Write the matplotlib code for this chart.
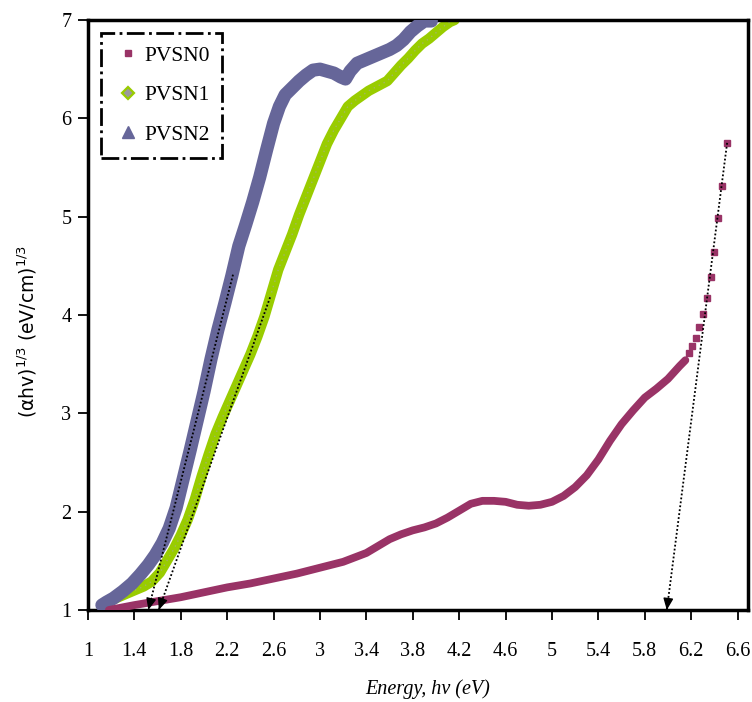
import matplotlib
matplotlib.use("Agg")
import matplotlib.pyplot as plt
from matplotlib.lines import Line2D

plt.rcParams["mathtext.fontset"] = "custom"
plt.rcParams["mathtext.rm"] = "Liberation Sans"
plt.rcParams["mathtext.it"] = "Liberation Sans"
plt.rcParams["mathtext.default"] = "regular"

# PVSN0 – dense part of the curve and the sparse high-energy points
pvsn0_energy = [1.18, 1.40, 1.60, 1.80, 2.00, 2.20, 2.40, 2.60, 2.80, 3.00,
                3.20, 3.40, 3.50, 3.60, 3.70, 3.80, 3.90, 4.00, 4.10, 4.20,
                4.30, 4.40, 4.50, 4.60, 4.70, 4.80, 4.90, 5.00, 5.10, 5.20,
                5.30, 5.40, 5.50, 5.60, 5.70, 5.80, 5.90, 6.00, 6.10, 6.15]
pvsn0_value = [1.00, 1.05, 1.09, 1.13, 1.18, 1.23, 1.27, 1.32, 1.37, 1.43,
               1.49, 1.58, 1.65, 1.72, 1.77, 1.81, 1.84, 1.88, 1.94, 2.01,
               2.08, 2.11, 2.11, 2.10, 2.07, 2.06, 2.07, 2.10, 2.16, 2.25,
               2.37, 2.53, 2.72, 2.89, 3.03, 3.16, 3.25, 3.35, 3.48, 3.54]
pvsn0_tail_energy = [6.18, 6.21, 6.24, 6.27, 6.30, 6.34, 6.37, 6.40, 6.43, 6.47, 6.51]
pvsn0_tail_value = [3.61, 3.68, 3.77, 3.88, 4.01, 4.17, 4.39, 4.64, 4.99, 5.31, 5.75]

# PVSN1
pvsn1_energy = [1.14, 1.20, 1.30, 1.40, 1.48, 1.55, 1.62, 1.68, 1.74, 1.80,
                1.86, 1.92, 1.98, 2.04, 2.10, 2.16, 2.22, 2.28, 2.34, 2.40,
                2.46, 2.52, 2.58, 2.64, 2.70, 2.76, 2.82, 2.88, 2.94, 3.00,
                3.06, 3.12, 3.18, 3.24, 3.30, 3.36, 3.42, 3.50, 3.58, 3.64,
                3.70, 3.76, 3.82, 3.88, 3.94, 4.00, 4.06, 4.12, 4.16]
pvsn1_value = [1.07, 1.10, 1.15, 1.20, 1.24, 1.29, 1.38, 1.50, 1.62, 1.76,
               1.92, 2.12, 2.36, 2.58, 2.79, 2.96, 3.12, 3.28, 3.44, 3.60,
               3.78, 3.98, 4.22, 4.46, 4.64, 4.82, 5.02, 5.20, 5.38, 5.56,
               5.74, 5.88, 6.00, 6.12, 6.18, 6.23, 6.28, 6.33, 6.38, 6.46,
               6.54, 6.61, 6.69, 6.76, 6.81, 6.87, 6.93, 6.98, 7.00]

# PVSN2
pvsn2_energy = [1.12, 1.16, 1.22, 1.30, 1.38, 1.45, 1.52, 1.58, 1.64, 1.70,
                1.76, 1.82, 1.88, 1.94, 2.00, 2.06, 2.12, 2.18, 2.24, 2.30,
                2.36, 2.42, 2.48, 2.54, 2.60, 2.65, 2.70, 2.76, 2.82, 2.88,
                2.94, 3.00, 3.06, 3.12, 3.18, 3.22, 3.26, 3.32, 3.40, 3.50,
                3.60, 3.66, 3.72, 3.78, 3.84, 3.90, 3.96]
pvsn2_value = [1.05, 1.08, 1.12, 1.19, 1.27, 1.36, 1.46, 1.56, 1.68, 1.83,
               2.04, 2.33, 2.62, 2.92, 3.22, 3.55, 3.85, 4.12, 4.40, 4.70,
               4.92, 5.15, 5.40, 5.68, 5.95, 6.12, 6.24, 6.31, 6.38, 6.44,
               6.49, 6.50, 6.48, 6.46, 6.42, 6.40, 6.48, 6.56, 6.60, 6.65,
               6.70, 6.74, 6.80, 6.88, 6.94, 6.99, 6.99]

# Linear extrapolations to the energy axis: upper point and band gap
tangent_top_energy = [2.25, 2.57, 6.51]
tangent_top_value = [4.41, 4.18, 5.75]
band_gap = [1.52, 1.61, 5.99]

labels = ["PVSN0", "PVSN1", "PVSN2"]
x_ticks = [1.0, 1.4, 1.8, 2.2, 2.6, 3.0, 3.4, 3.8, 4.2, 4.6, 5.0, 5.4, 5.8, 6.2, 6.6]
x_tick_labels = ["1", "1.4", "1.8", "2.2", "2.6", "3", "3.4", "3.8", "4.2",
                 "4.6", "5", "5.4", "5.8", "6.2", "6.6"]
y_ticks = [1, 2, 3, 4, 5, 6, 7]

c0, c1, c2 = "#993366", "#99CC00", "#666699"

fig = plt.figure(figsize=(7.52, 7.02), dpi=100)
ax = fig.add_axes([88 / 752, 1 - 610 / 702, 660 / 752, 590 / 702])

ax.plot(pvsn1_energy, pvsn1_value, color=c1, lw=7.5, solid_capstyle="round",
        solid_joinstyle="round", zorder=2)
ax.plot(pvsn1_energy, pvsn1_value, color="#a8a8a8", lw=1.0, ls=(0, (1, 3)),
        alpha=0.6, zorder=2.1)
ax.plot(pvsn2_energy, pvsn2_value, color=c2, lw=9.5, solid_capstyle="round",
        solid_joinstyle="round", zorder=3)
ax.plot(pvsn0_energy, pvsn0_value, color=c0, lw=5.6, solid_capstyle="round",
        solid_joinstyle="round", zorder=4)
ax.plot(pvsn0_tail_energy, pvsn0_tail_value, ls="none", marker="s", ms=5,
        color=c0, zorder=4)

for xt, yt, eg in zip(tangent_top_energy, tangent_top_value, band_gap):
    ax.plot([xt, eg], [yt, 1.0], color="black", lw=1.3, ls=(0, (1, 1.2)),
            zorder=6, clip_on=False)
    dx = (xt - eg) / (yt - 1.0) * 0.12
    ax.annotate("", xy=(eg, 1.0), xytext=(eg + dx, 1.12),
                arrowprops=dict(arrowstyle="-|>,head_length=0.7,head_width=0.3",
                                color="black", lw=1.0, shrinkA=0, shrinkB=0,
                                mutation_scale=10),
                zorder=7, annotation_clip=False)

ax.set_xlim(1.0, 6.69)
ax.set_ylim(1, 7)
ax.set_xticks(x_ticks)
ax.set_xticklabels(x_tick_labels)
ax.set_yticks(y_ticks)
for lab in ax.get_xticklabels() + ax.get_yticklabels():
    lab.set_fontfamily("Liberation Serif")
    lab.set_fontsize(14.5)
ax.tick_params(axis="x", direction="out", length=7, width=1.3, pad=16)
ax.tick_params(axis="y", direction="out", length=7, width=1.3, pad=5)
for sp in ax.spines.values():
    sp.set_linewidth(2.5)

ax.set_xlabel("Energy, hv (eV)", fontfamily="Liberation Serif", style="italic",
              fontsize=14.5, va="center")
ax.xaxis.set_label_coords((428 - 88) / 660, -(689 - 610) / 590)
ax.set_ylabel(r"$(\alpha hv)^{1/3}\ (eV/cm)^{1/3}$", fontsize=13.5, va="center")
ax.yaxis.set_label_coords(-(88 - 27) / 660, (610 - 331) / 590)

handles = [
    Line2D([], [], ls="none", marker="s", ms=5, color=c0),
    Line2D([], [], ls="none", marker="D", ms=6, mfc="#9a9a9a", mec=c1, mew=1.6),
    Line2D([], [], ls="none", marker="^", ms=8, color=c2),
]
leg = ax.legend(handles, labels, loc="upper left",
                bbox_to_anchor=((101 - 88) / 660, (610 - 33) / 590),
                borderaxespad=0, fancybox=False, frameon=True,
                prop={"family": "Liberation Serif", "size": 15.5},
                handlelength=1.3, handletextpad=0.1, labelspacing=0.9,
                borderpad=0.6)
fr = leg.get_frame()
fr.set_edgecolor("black")
fr.set_linewidth(2.0)
fr.set_linestyle("-.")
fr.set_alpha(1)

fig.savefig("out.png", dpi=100)
